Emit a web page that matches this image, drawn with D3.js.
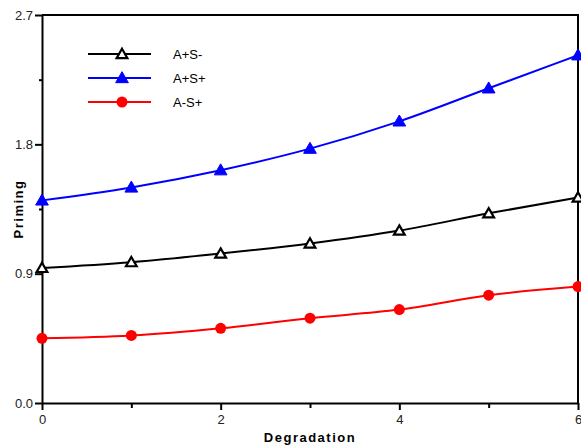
<!DOCTYPE html>
<html>
<head>
<meta charset="utf-8">
<script src="https://d3js.org/d3.v7.min.js"></script>
<style>
  body { margin: 0; background: #fff; }
  svg { font-family: Arial, "Liberation Sans", sans-serif; }
  .axis text { font-size: 13px; fill: #222; }
  .axis path, .axis line { stroke: #000; stroke-width: 2px; }
  .title { font-size: 13px; font-weight: bold; letter-spacing: 1.5px; }
  .legend text { font-size: 13px; }
</style>
</head>
<body>
<script>
// data
var degradation = [0, 1, 2, 3, 4, 5, 6];
var seriesNames = ['A+S-', 'A+S+', 'A-S+'];
var aPlusSMinus = [0.94, 0.98, 1.04, 1.11, 1.20, 1.32, 1.43];
var aPlusSPlus  = [1.41, 1.50, 1.62, 1.77, 1.96, 2.19, 2.42];
var aMinusSPlus = [0.45, 0.47, 0.52, 0.59, 0.65, 0.75, 0.81];
var xTicks = [0, 2, 4, 6];
var xMinor = [1, 3, 5];
var yTicks = [0.0, 0.9, 1.8, 2.7];
var yMinor = [0.45, 1.35, 2.25];

var W = 581, H = 445;
var pLeft = 42, pRight = 578, pTop = 15, pBottom = 403;

var svg = d3.select('body').append('svg')
  .attr('width', W).attr('height', H);

var x = d3.scaleLinear().domain([0, 6]).range([pLeft, pRight]);
var y = d3.scaleLinear().domain([0, 2.7]).range([pBottom, pTop]);

// frame (top + right)
svg.append('path')
  .attr('d', 'M' + pLeft + ',' + pTop + 'H' + pRight + 'V' + pBottom)
  .attr('fill', 'none').attr('stroke', '#000').attr('stroke-width', 2);

// x axis
svg.append('g').attr('class', 'axis')
  .attr('transform', 'translate(0,' + pBottom + ')')
  .call(d3.axisBottom(x).tickValues(xTicks).tickFormat(d3.format('d'))
    .tickSize(7).tickPadding(5).tickSizeOuter(0));
svg.append('g').attr('class', 'axis')
  .attr('transform', 'translate(0,' + pBottom + ')')
  .call(d3.axisBottom(x).tickValues(xMinor).tickFormat('').tickSize(5).tickSizeOuter(0))
  .select('.domain').remove();

// y axis
svg.append('g').attr('class', 'axis')
  .attr('transform', 'translate(' + pLeft + ',0)')
  .call(d3.axisLeft(y).tickValues(yTicks).tickFormat(d3.format('.1f'))
    .tickSize(7).tickPadding(2).tickSizeOuter(0));
svg.append('g').attr('class', 'axis')
  .attr('transform', 'translate(' + pLeft + ',0)')
  .call(d3.axisLeft(y).tickValues(yMinor).tickFormat('').tickSize(3).tickSizeOuter(0))
  .select('.domain').remove();

// axis titles
svg.append('text').attr('class', 'title')
  .attr('x', (pLeft + pRight) / 2).attr('y', 442)
  .attr('text-anchor', 'middle').text('Degradation');
svg.append('text').attr('class', 'title')
  .attr('transform', 'translate(23,' + ((pTop + pBottom) / 2) + ') rotate(-90)')
  .attr('text-anchor', 'middle').text('Priming');

var series = [
  { name: seriesNames[0], values: aPlusSMinus, color: '#000', marker: 'openTri' },
  { name: seriesNames[1], values: aPlusSPlus, color: '#0000ff', marker: 'tri' },
  { name: seriesNames[2], values: aMinusSPlus, color: '#ff0000', marker: 'circle' }
];

var line = d3.line()
  .x(function(d, i) { return x(degradation[i]); })
  .y(function(d) { return y(d); })
  .curve(d3.curveMonotoneX);

function drawMarker(g, s, cx, cy) {
  if (s.marker == 'circle') {
    g.append('circle').attr('cx', cx).attr('cy', cy).attr('r', 5.5).attr('fill', s.color);
  } else {
    var tri = d3.symbol().type(d3.symbolTriangle).size(s.marker == 'tri' ? 70 : 50);
    g.append('path').attr('d', tri())
      .attr('transform', 'translate(' + cx + ',' + (cy + 1) + ')')
      .attr('fill', s.marker == 'tri' ? s.color : '#fff')
      .attr('stroke', s.color).attr('stroke-width', s.marker == 'tri' ? 1 : 2.2);
  }
}

series.forEach(function(s) {
  var g = svg.append('g');
  g.append('path').datum(s.values)
    .attr('d', line)
    .attr('fill', 'none').attr('stroke', s.color).attr('stroke-width', 2);
  s.values.forEach(function(v, i) {
    drawMarker(g, s, x(degradation[i]), y(v));
  });
});

// legend
var legend = svg.append('g').attr('class', 'legend');
series.forEach(function(s, i) {
  var ly = 54 + i * 24;
  legend.append('line').attr('x1', 88).attr('x2', 151).attr('y1', ly).attr('y2', ly)
    .attr('stroke', s.color).attr('stroke-width', 2);
  drawMarker(legend, s, 122, ly);
  legend.append('text').attr('x', 173).attr('y', ly + 5).text(s.name);
});
</script>
</body>
</html>
